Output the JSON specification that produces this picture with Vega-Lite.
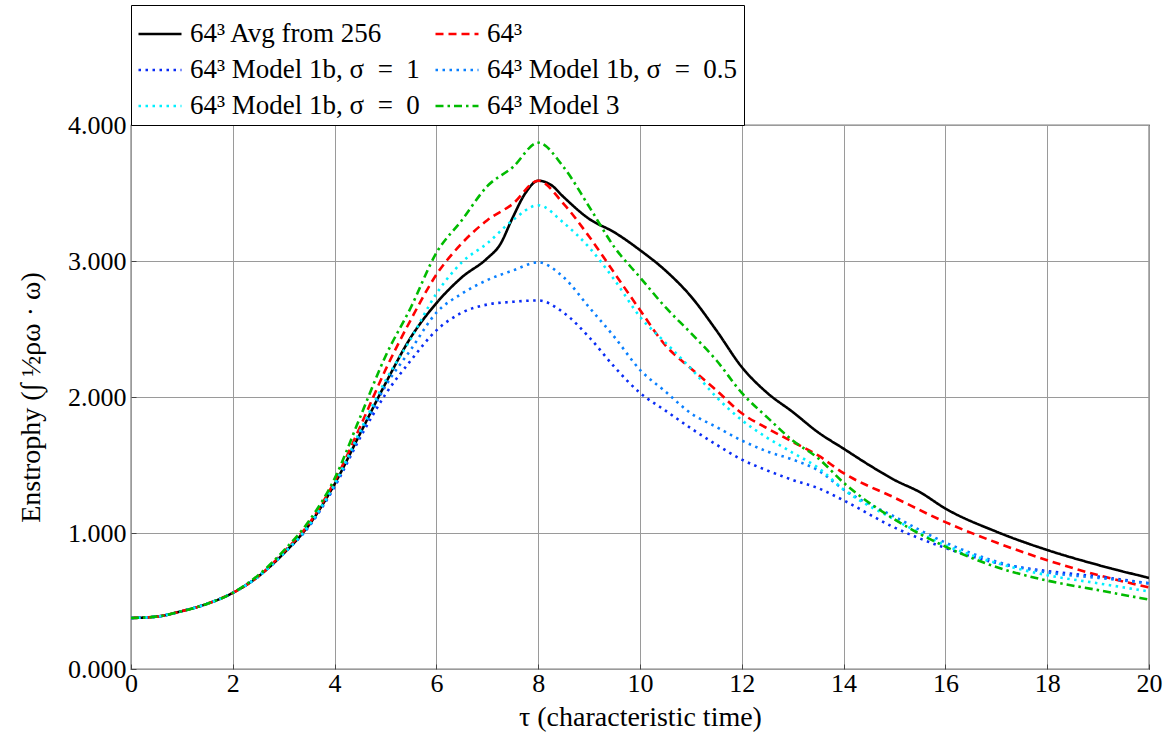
{
  "$schema": "https://vega.github.io/schema/vega-lite/v6.json",
  "width": 1018,
  "height": 544,
  "autosize": {"type": "none"},
  "padding": {"left": 131, "top": 125, "right": 20, "bottom": 75},
  "background": "white",
  "config": {
    "font": "Liberation Serif",
    "view": {"stroke": "black", "strokeWidth": 1.2},
    "axis": {
      "labelFont": "Liberation Serif",
      "titleFont": "Liberation Serif",
      "labelFontSize": 26,
      "titleFontSize": 28,
      "titleFontWeight": "normal",
      "labelColor": "black",
      "titleColor": "black",
      "gridColor": "#9a9a9a",
      "gridWidth": 1,
      "gridOpacity": 1,
      "domain": false,
      "labelFlush": false,
      "tickColor": "#444444",
      "tickSize": -5
    },
    "legend": {
      "orient": "none",
      "legendX": 0,
      "legendY": -120,
      "columns": 2,
      "strokeColor": "black",
      "fillColor": "white",
      "padding": 6,
      "labelFont": "Liberation Serif",
      "labelFontSize": 27,
      "labelColor": "black",
      "labelLimit": 600,
      "labelOffset": 7,
      "symbolType": "stroke",
      "symbolSize": 1849,
      "symbolStrokeWidth": 2.5,
      "rowPadding": 0,
      "columnPadding": 10,
      "title": null
    }
  },
  "data": {
    "values": [
      {"t":0,"s":"A","v":0.375},{"t":0.5,"s":"A","v":0.385},{"t":1,"s":"A","v":0.425},{"t":1.5,"s":"A","v":0.48},{"t":2,"s":"A","v":0.56},{"t":2.5,"s":"A","v":0.68},{"t":3,"s":"A","v":0.85},{"t":3.5,"s":"A","v":1.06},{"t":4,"s":"A","v":1.36},{"t":4.5,"s":"A","v":1.73},{"t":5,"s":"A","v":2.1},{"t":5.5,"s":"A","v":2.44},{"t":6,"s":"A","v":2.69},{"t":6.5,"s":"A","v":2.88},{"t":7,"s":"A","v":3.02},{"t":7.25,"s":"A","v":3.12},{"t":7.5,"s":"A","v":3.32},{"t":7.75,"s":"A","v":3.5},{"t":8,"s":"A","v":3.59},{"t":8.25,"s":"A","v":3.56},{"t":8.5,"s":"A","v":3.47},{"t":9,"s":"A","v":3.31},{"t":9.5,"s":"A","v":3.21},{"t":10,"s":"A","v":3.08},{"t":10.5,"s":"A","v":2.93},{"t":11,"s":"A","v":2.74},{"t":11.5,"s":"A","v":2.49},{"t":12,"s":"A","v":2.22},{"t":12.5,"s":"A","v":2.03},{"t":13,"s":"A","v":1.89},{"t":13.5,"s":"A","v":1.74},{"t":14,"s":"A","v":1.62},{"t":14.5,"s":"A","v":1.5},{"t":15,"s":"A","v":1.39},{"t":15.5,"s":"A","v":1.3},{"t":16,"s":"A","v":1.18},{"t":17,"s":"A","v":1.01},{"t":18,"s":"A","v":0.875},{"t":19,"s":"A","v":0.765},{"t":20,"s":"A","v":0.67},

      {"t":0,"s":"B","v":0.375},{"t":0.5,"s":"B","v":0.385},{"t":1,"s":"B","v":0.425},{"t":1.5,"s":"B","v":0.48},{"t":2,"s":"B","v":0.56},{"t":2.5,"s":"B","v":0.68},{"t":3,"s":"B","v":0.86},{"t":3.5,"s":"B","v":1.07},{"t":4,"s":"B","v":1.38},{"t":4.5,"s":"B","v":1.78},{"t":5,"s":"B","v":2.2},{"t":5.5,"s":"B","v":2.57},{"t":6,"s":"B","v":2.9},{"t":6.5,"s":"B","v":3.13},{"t":7,"s":"B","v":3.3},{"t":7.5,"s":"B","v":3.42},{"t":8,"s":"B","v":3.59},{"t":8.5,"s":"B","v":3.42},{"t":9,"s":"B","v":3.18},{"t":9.5,"s":"B","v":2.91},{"t":10,"s":"B","v":2.64},{"t":10.5,"s":"B","v":2.38},{"t":11,"s":"B","v":2.21},{"t":11.5,"s":"B","v":2.05},{"t":12,"s":"B","v":1.88},{"t":12.5,"s":"B","v":1.77},{"t":13,"s":"B","v":1.67},{"t":13.5,"s":"B","v":1.57},{"t":14,"s":"B","v":1.44},{"t":15,"s":"B","v":1.26},{"t":16,"s":"B","v":1.08},{"t":17,"s":"B","v":0.93},{"t":18,"s":"B","v":0.8},{"t":19,"s":"B","v":0.69},{"t":20,"s":"B","v":0.6},

      {"t":0,"s":"C","v":0.375},{"t":0.5,"s":"C","v":0.385},{"t":1,"s":"C","v":0.425},{"t":1.5,"s":"C","v":0.48},{"t":2,"s":"C","v":0.56},{"t":2.5,"s":"C","v":0.68},{"t":3,"s":"C","v":0.85},{"t":3.5,"s":"C","v":1.05},{"t":4,"s":"C","v":1.34},{"t":4.5,"s":"C","v":1.7},{"t":5,"s":"C","v":2.02},{"t":5.5,"s":"C","v":2.27},{"t":6,"s":"C","v":2.49},{"t":6.5,"s":"C","v":2.62},{"t":7,"s":"C","v":2.68},{"t":7.5,"s":"C","v":2.7},{"t":8,"s":"C","v":2.71},{"t":8.5,"s":"C","v":2.62},{"t":9,"s":"C","v":2.44},{"t":9.5,"s":"C","v":2.22},{"t":10,"s":"C","v":2.03},{"t":10.5,"s":"C","v":1.9},{"t":11,"s":"C","v":1.77},{"t":11.5,"s":"C","v":1.65},{"t":12,"s":"C","v":1.54},{"t":12.5,"s":"C","v":1.46},{"t":13,"s":"C","v":1.39},{"t":13.5,"s":"C","v":1.33},{"t":14,"s":"C","v":1.24},{"t":15,"s":"C","v":1.04},{"t":16,"s":"C","v":0.89},{"t":17,"s":"C","v":0.78},{"t":18,"s":"C","v":0.72},{"t":19,"s":"C","v":0.68},{"t":20,"s":"C","v":0.63},

      {"t":0,"s":"D","v":0.375},{"t":0.5,"s":"D","v":0.385},{"t":1,"s":"D","v":0.425},{"t":1.5,"s":"D","v":0.48},{"t":2,"s":"D","v":0.56},{"t":2.5,"s":"D","v":0.68},{"t":3,"s":"D","v":0.85},{"t":3.5,"s":"D","v":1.05},{"t":4,"s":"D","v":1.35},{"t":4.5,"s":"D","v":1.72},{"t":5,"s":"D","v":2.08},{"t":5.5,"s":"D","v":2.35},{"t":6,"s":"D","v":2.62},{"t":6.5,"s":"D","v":2.76},{"t":7,"s":"D","v":2.86},{"t":7.5,"s":"D","v":2.93},{"t":8,"s":"D","v":2.99},{"t":8.5,"s":"D","v":2.88},{"t":9,"s":"D","v":2.66},{"t":9.5,"s":"D","v":2.44},{"t":10,"s":"D","v":2.2},{"t":10.5,"s":"D","v":2.04},{"t":11,"s":"D","v":1.88},{"t":11.5,"s":"D","v":1.78},{"t":12,"s":"D","v":1.68},{"t":12.5,"s":"D","v":1.6},{"t":13,"s":"D","v":1.54},{"t":13.5,"s":"D","v":1.46},{"t":14,"s":"D","v":1.32},{"t":15,"s":"D","v":1.12},{"t":16,"s":"D","v":0.93},{"t":17,"s":"D","v":0.79},{"t":18,"s":"D","v":0.71},{"t":19,"s":"D","v":0.67},{"t":20,"s":"D","v":0.63},

      {"t":0,"s":"E","v":0.375},{"t":0.5,"s":"E","v":0.385},{"t":1,"s":"E","v":0.425},{"t":1.5,"s":"E","v":0.48},{"t":2,"s":"E","v":0.56},{"t":2.5,"s":"E","v":0.68},{"t":3,"s":"E","v":0.85},{"t":3.5,"s":"E","v":1.06},{"t":4,"s":"E","v":1.36},{"t":4.5,"s":"E","v":1.75},{"t":5,"s":"E","v":2.12},{"t":5.5,"s":"E","v":2.43},{"t":6,"s":"E","v":2.76},{"t":6.5,"s":"E","v":2.99},{"t":7,"s":"E","v":3.13},{"t":7.5,"s":"E","v":3.3},{"t":8,"s":"E","v":3.41},{"t":8.5,"s":"E","v":3.28},{"t":9,"s":"E","v":3.1},{"t":9.5,"s":"E","v":2.86},{"t":10,"s":"E","v":2.59},{"t":10.5,"s":"E","v":2.4},{"t":11,"s":"E","v":2.21},{"t":11.5,"s":"E","v":2.0},{"t":12,"s":"E","v":1.83},{"t":12.5,"s":"E","v":1.7},{"t":13,"s":"E","v":1.59},{"t":13.5,"s":"E","v":1.48},{"t":14,"s":"E","v":1.32},{"t":15,"s":"E","v":1.1},{"t":16,"s":"E","v":0.91},{"t":17,"s":"E","v":0.78},{"t":18,"s":"E","v":0.69},{"t":19,"s":"E","v":0.63},{"t":20,"s":"E","v":0.57},

      {"t":0,"s":"F","v":0.375},{"t":0.5,"s":"F","v":0.385},{"t":1,"s":"F","v":0.425},{"t":1.5,"s":"F","v":0.48},{"t":2,"s":"F","v":0.56},{"t":2.5,"s":"F","v":0.69},{"t":3,"s":"F","v":0.87},{"t":3.5,"s":"F","v":1.09},{"t":4,"s":"F","v":1.4},{"t":4.5,"s":"F","v":1.85},{"t":5,"s":"F","v":2.3},{"t":5.5,"s":"F","v":2.66},{"t":6,"s":"F","v":3.06},{"t":6.5,"s":"F","v":3.3},{"t":7,"s":"F","v":3.55},{"t":7.5,"s":"F","v":3.69},{"t":8,"s":"F","v":3.87},{"t":8.5,"s":"F","v":3.69},{"t":9,"s":"F","v":3.4},{"t":9.5,"s":"F","v":3.1},{"t":10,"s":"F","v":2.88},{"t":10.5,"s":"F","v":2.66},{"t":11,"s":"F","v":2.47},{"t":11.5,"s":"F","v":2.27},{"t":12,"s":"F","v":2.03},{"t":12.5,"s":"F","v":1.85},{"t":13,"s":"F","v":1.68},{"t":13.5,"s":"F","v":1.55},{"t":14,"s":"F","v":1.37},{"t":15,"s":"F","v":1.1},{"t":16,"s":"F","v":0.9},{"t":17,"s":"F","v":0.75},{"t":18,"s":"F","v":0.65},{"t":19,"s":"F","v":0.58},{"t":20,"s":"F","v":0.51}
    ]
  },
  "transform": [
    {"lookup": "s", "from": {"data": {"values": [
      {"s":"A","name":"64³ Avg from 256"},
      {"s":"B","name":"64³"},
      {"s":"C","name":"64³ Model 1b, σ\u2002=\u20021"},
      {"s":"D","name":"64³ Model 1b, σ\u2002=\u20020.5"},
      {"s":"E","name":"64³ Model 1b, σ\u2002=\u20020"},
      {"s":"F","name":"64³ Model 3"}
    ]}, "key": "s", "fields": ["name"]}}
  ],
  "mark": {"type": "line", "interpolate": "monotone", "strokeWidth": 2.6, "clip": true},
  "encoding": {
    "x": {
      "field": "t", "type": "quantitative",
      "scale": {"domain": [0, 20], "nice": false},
      "axis": {"values": [0,2,4,6,8,10,12,14,16,18,20], "title": "τ (characteristic time)", "labelPadding": 6, "titlePadding": 7}
    },
    "y": {
      "field": "v", "type": "quantitative",
      "scale": {"domain": [0, 4], "nice": false},
      "axis": {"values": [0,1,2,3,4], "format": ".3f", "title": "Enstrophy (∫ ½ρω · ω)", "labelPadding": 10, "titlePadding": 22}
    },
    "color": {
      "field": "name", "type": "nominal",
      "sort": ["64³ Avg from 256","64³ Model 1b, σ\u2002=\u20021","64³ Model 1b, σ\u2002=\u20020","64³","64³ Model 1b, σ\u2002=\u20020.5","64³ Model 3"],
      "scale": {
        "domain": ["64³ Avg from 256","64³ Model 1b, σ\u2002=\u20021","64³ Model 1b, σ\u2002=\u20020","64³","64³ Model 1b, σ\u2002=\u20020.5","64³ Model 3"],
        "range": ["#000000","#0a2cf5","#00f0ff","#ff0000","#0a80ff","#00bb00"]
      }
    },
    "strokeDash": {
      "field": "name", "type": "nominal",
      "sort": ["64³ Avg from 256","64³ Model 1b, σ\u2002=\u20021","64³ Model 1b, σ\u2002=\u20020","64³","64³ Model 1b, σ\u2002=\u20020.5","64³ Model 3"],
      "scale": {
        "domain": ["64³ Avg from 256","64³ Model 1b, σ\u2002=\u20021","64³ Model 1b, σ\u2002=\u20020","64³","64³ Model 1b, σ\u2002=\u20020.5","64³ Model 3"],
        "range": [[1,0],[2.5,4.5],[2.5,4.5],[8,5],[2.5,4.5],[8,4,2.5,4]]
      }
    }
  }
}
